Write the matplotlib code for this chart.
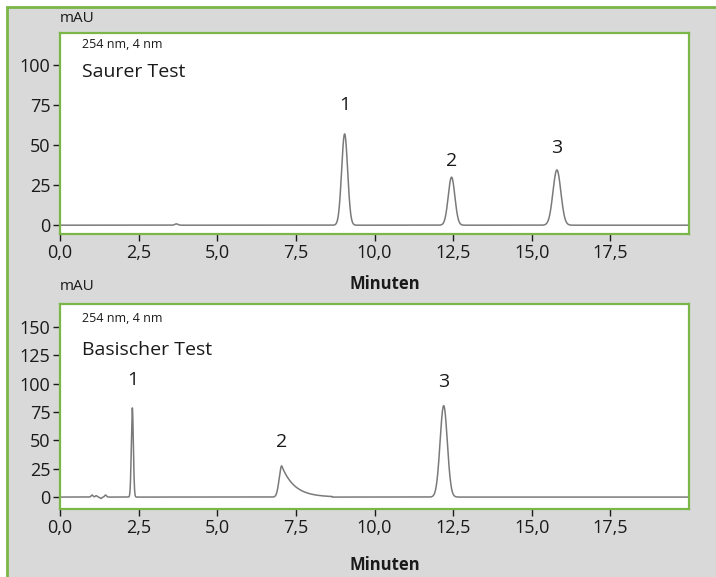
import numpy as np
import matplotlib
matplotlib.use("Agg")
import matplotlib.pyplot as plt
from matplotlib.patches import Rectangle

# Peak tables: retention time (min), height (mAU), width sigma (min)
acid_rt = [3.70, 9.05, 12.45, 15.80]
acid_height = [0.8, 57.0, 30.0, 34.5]
acid_sigma = [0.05, 0.095, 0.105, 0.125]
acid_labels = ["", "1", "2", "3"]
acid_label_y = [0, 69.5, 34.5, 42.5]

base_rt = [1.02, 1.15, 1.30, 1.45, 2.30, 7.05, 12.20]
base_height = [1.8, 1.2, -1.2, 1.8, 78.5, 27.5, 80.5]
base_sigma = [0.03, 0.03, 0.03, 0.03, 0.032, 0.08, 0.115]
base_tail = [0, 0, 0, 0, 0, 0.40, 0]      # exponential tailing time constant (min)
base_tail_end = [0, 0, 0, 0, 0, 8.65, 0]
base_labels = ["", "", "", "", "1", "2", "3"]
base_label_y = [0, 0, 0, 0, 95.0, 41.0, 93.5]

x_ticks = [0, 2.5, 5.0, 7.5, 10.0, 12.5, 15.0, 17.5]
x_ticklabels = ["0,0", "2,5", "5,0", "7,5", "10,0", "12,5", "15,0", "17,5"]
acid_yticks = [0, 25, 50, 75, 100]
base_yticks = [0, 25, 50, 75, 100, 125, 150]

GREEN = "#7ab648"
GRAY_BG = "#d9d9d9"
TRACE = "#7a7a7a"
TXT = "#1a1a1a"

plt.rcParams["font.family"] = ["Open Sans", "DejaVu Sans"]

W, H = 716, 577
fig = plt.figure(figsize=(W / 100, H / 100), dpi=100, facecolor="white")
fig.patches.append(Rectangle((7 / W, -0.1), 1.2, 1 - 7 / H + 0.1, transform=fig.transFigure,
                             facecolor=GRAY_BG, edgecolor=GREEN, linewidth=2, zorder=-10))


def trace(t, rts, hs, sigmas, tails=None, tail_ends=None):
    y = np.zeros_like(t)
    for i, (rt, h, s) in enumerate(zip(rts, hs, sigmas)):
        tau = tails[i] if tails else 0
        if tau:
            g = np.where(t < rt, np.exp(-0.5 * ((t - rt) / s) ** 2),
                         np.exp(-(t - rt) / tau))
            g = np.where(t > tail_ends[i], 0, g)
            y += h * g
        else:
            y += h * np.exp(-0.5 * ((t - rt) / s) ** 2)
    return y


def px(x, y):
    return x / W, 1 - y / H


def style(ax, ylim, yticks):
    ax.set_xlim(0, 20)
    ax.set_ylim(*ylim)
    ax.set_xticks(x_ticks)
    ax.set_xticklabels(x_ticklabels)
    ax.set_yticks(yticks)
    ax.set_yticklabels([str(v) for v in yticks])
    for sp in ax.spines.values():
        sp.set_color(GREEN)
        sp.set_linewidth(1.6)
    ax.tick_params(axis="both", direction="out", length=5, width=1, color=TXT,
                   labelsize=13, labelcolor=TXT, pad=2)
    ax.set_facecolor("white")


t = np.linspace(0, 20, 8001)

ax1 = fig.add_axes([60 / W, 1 - 234 / H, 629 / W, 201 / H])
style(ax1, (-5.5, 120), acid_yticks)
ax1.plot(t, trace(t, acid_rt, acid_height, acid_sigma), color=TRACE, lw=1.1)
for rt, ly, lab in zip(acid_rt, acid_label_y, acid_labels):
    if lab:
        ax1.text(rt, ly, lab, ha="center", va="bottom", fontsize=14, color=TXT)
ax1.text(*px(82, 44), "254 nm, 4 nm", transform=fig.transFigure, fontsize=9,
         va="center", color=TXT)
ax1.text(*px(82, 72), "Saurer Test", transform=fig.transFigure, fontsize=14,
         va="center", color=TXT)

ax2 = fig.add_axes([60 / W, 1 - 509 / H, 629 / W, 205 / H])
style(ax2, (-10.5, 170), base_yticks)
ax2.plot(t, trace(t, base_rt, base_height, base_sigma, base_tail, base_tail_end),
         color=TRACE, lw=1.1)
for rt, ly, lab in zip(base_rt, base_label_y, base_labels):
    if lab:
        ax2.text(rt, ly, lab, ha="center", va="bottom", fontsize=14, color=TXT)
ax2.text(*px(82, 319), "254 nm, 4 nm", transform=fig.transFigure, fontsize=9,
         va="center", color=TXT)
ax2.text(*px(82, 350), "Basischer Test", transform=fig.transFigure, fontsize=14,
         va="center", color=TXT)

fig.text(*px(60, 18), "mAU", fontsize=11, va="center", color=TXT)
fig.text(*px(60, 287), "mAU", fontsize=11, va="center", color=TXT)
fig.text(*px(385, 284), "Minuten", fontsize=12, fontweight="bold", ha="center",
         va="center", color=TXT)
fig.text(*px(385, 565), "Minuten", fontsize=12, fontweight="bold", ha="center",
         va="center", color=TXT)

fig.savefig("out.png", dpi=100, facecolor="white")
